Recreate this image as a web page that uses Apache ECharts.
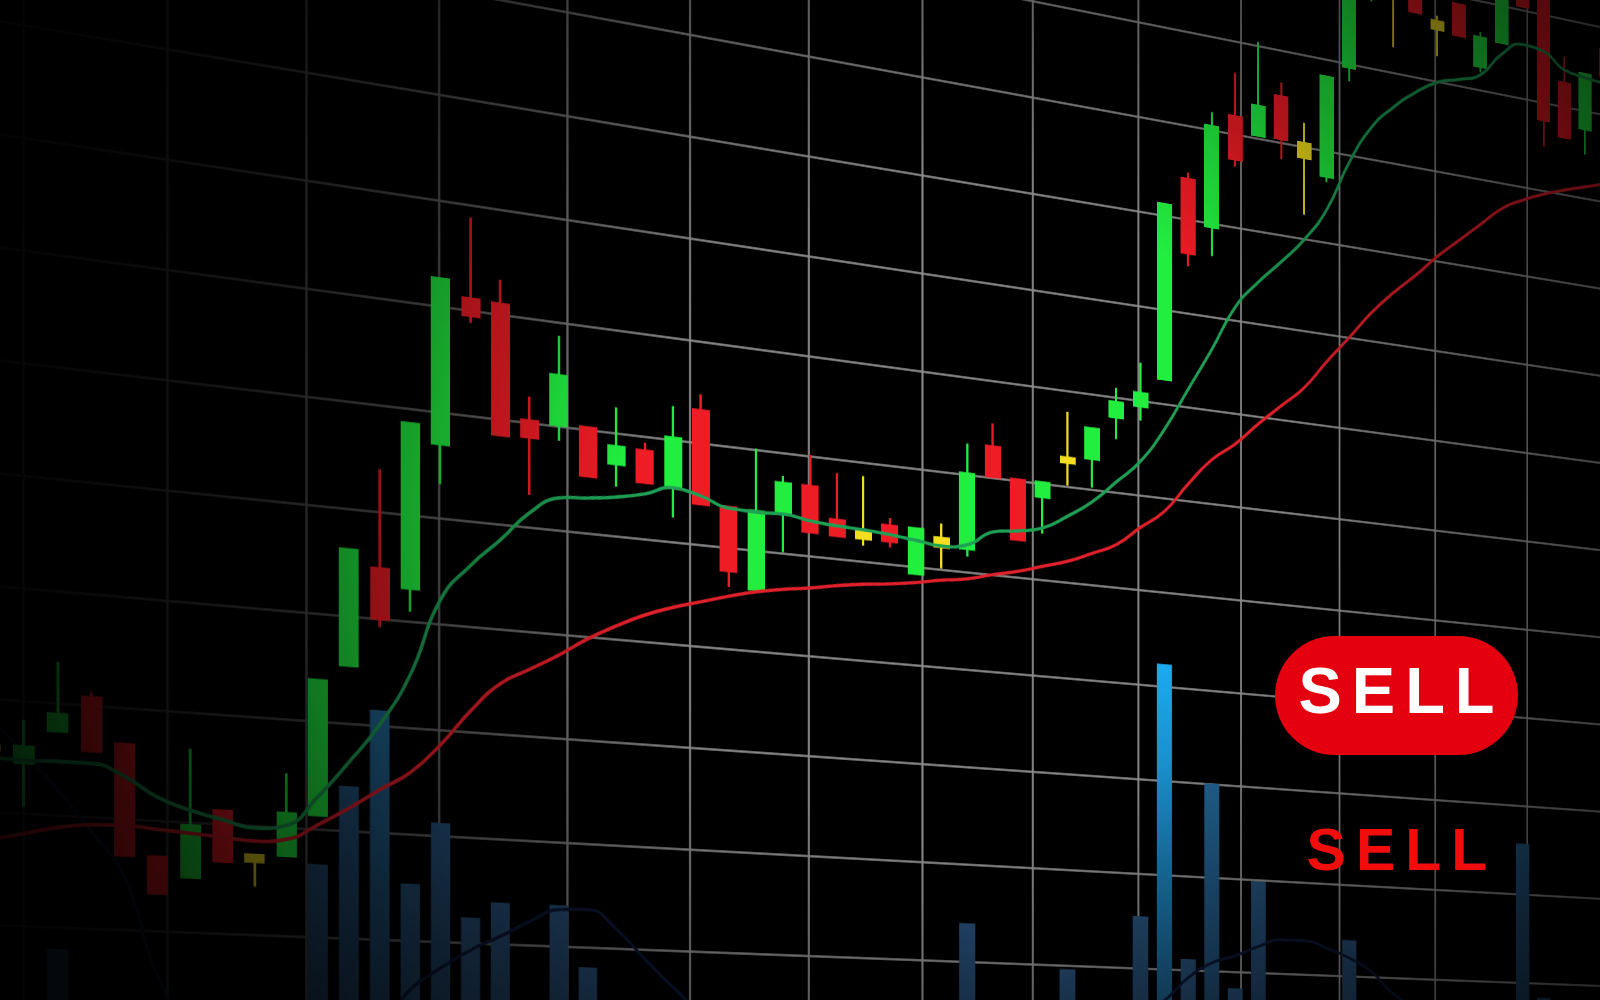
<!DOCTYPE html>
<html>
<head>
<meta charset="utf-8">
<script src="https://cdn.jsdelivr.net/npm/echarts@6.0.0/dist/echarts.min.js"></script>
<style>
html,body{margin:0;padding:0;background:#000;width:1600px;height:1000px;overflow:hidden}
#stage{position:absolute;left:0;top:0;width:1600px;height:1000px;overflow:hidden;background:#000}
#plane{position:absolute;left:-130px;top:-431px;width:2240px;height:1582px;
  transform-origin:130px 1621px;
  transform:perspective(4041.5px) rotateY(30deg) scaleX(1.1547);}
#overlay{position:absolute;left:0;top:0;width:1600px;height:1000px}
</style>
</head>
<body>
<div id="stage"><div id="plane"></div><div id="overlay"></div></div>
<script>
// ---------- data ----------
const categories = Array.from({length: 62}, (_, i) => 'T' + (i + 1));

const open  = [15.5,14.5,17.5,20.7,16.7,6.7,5.0,11.2,7.3,7.4, 11.3,25.4,34.7,33.1,47.0,61.1,61.0,50.2,50.1,50.2, 47.0,48.6,45.4,53.2,44.0,36.1,44.0,47.0,43.9,43.0, 43.9,39.3,42.3,42.4,53.2,50.1,48.6,52.5,53.2,57.9, 59.4,62.6,84.3,79.6,91.9,90.3,95.0,88.8,87.2,99.6, 109.2,110.5,111.9,106.7,109.1,102.6,105.8,114.5,112.8,102.7, 97.9,107.4];
const close = [15.8,15.9,19.0,15.9,6.7,3.4,9.7,6.6,6.7,11.3, 23.8,36.2,30.0,48.6,62.6,59.5,48.5,48.6,54.9,45.5, 48.7,45.5,50.2,44.0,37.7,43.9,47.0,42.4,42.3,42.3, 42.3,43.9,43.2,50.1,50.1,43.9,50.1,53.0,56.4,59.5, 60.8,81.2,76.4,90.4,87.3,93.5,90.4,90.4,98.1,109.2, 114.2,109.6,107.2,105.8,105.6,105.9,113.5,110.4,98.0,96.5, 104.2,104.4];
const low   = [15.0,10.6,17.5,15.9,6.7,3.4,5.0,6.6,4.4,7.4, 11.3,25.4,29.2,30.9,43.2,58.8,48.5,43.1,48.6,45.5, 44.8,45.5,42.4,44.0,36.1,36.1,40.1,42.4,42.3,41.6, 41.7,39.3,40.1,41.6,50.1,43.9,44.8,50.1,50.2,55.6, 57.9,62.6,75.0,76.5,86.5,90.3,88.2,82.6,86.6,98.1, 107.4,102.8,107.2,102.8,105.6,102.0,105.8,110.4,95.0,96.5, 95.0,104.4];
const high  = [16.4,18.3,23.7,21.2,16.7,6.7,16.7,11.2,7.3,15.0, 23.8,36.2,44.0,48.6,62.6,68.8,63.3,52.5,58.7,50.2, 52.5,49.4,53.3,54.8,44.0,50.1,47.7,50.1,48.6,48.6, 44.7,43.9,44.7,53.2,55.6,50.1,50.1,57.8,56.4,61.0, 64.0,81.2,85.0,91.9,96.6,100.4,96.5,92.6,98.1,109.2, 114.5,112.0,111.9,107.3,109.1,106.5,113.5,114.5,112.8,105.7, 104.2,107.4];
// candles drawn as neutral (yellow) signals
const neutral = [0, 8, 29, 32, 37, 47, 51, 53];

const maFast = [14.8,14.7,14.8,14.8,13.8,12.1,11.1,10.4,9.8,10.2, 13.0,16.4,20.1,25.0,32.3,35.8,38.5,41.4,43.1,43.4, 43.8,44.4,45.3,44.8,43.9,43.8,43.9,43.5,43.3,43.2, 43.0,42.7,42.4,42.8,44.4,44.8,45.4,46.9,48.7,51.1, 53.6,57.3,61.9,66.5,71.4,74.5,77.1,79.9,83.6,89.2, 93.5,96.2,98.3,99.9,100.7,101.7,104.5,106.1,105.8,104.2, 103.8,103.6];
const maSlow = [7.5,8.2,8.9,9.3,9.4,9.2,9.0,8.8,8.6,8.9, 10.4,12.1,14.0,15.8,18.6,22.0,24.8,26.4,28.0,29.8, 31.3,32.6,33.6,34.4,35.2,35.9,36.4,36.8,37.3,37.7, 38.0,38.4,38.9,39.3,40.0,40.6,41.4,42.2,43.3,44.5, 46.6,48.6,51.8,54.7,56.7,59.2,61.5,63.8,67.0,70.0, 73.1,75.7,78.0,80.5,82.7,84.9,87.1,88.5,89.6,90.5, 91.3,92.1];

const volume = ['-','-',129,'-','-','-','-','-','-','-', 191,244,296,181,223,160,171,'-',171,129, '-','-','-','-','-','-','-','-','-','-', '-','-','-',171,'-','-','-',140,'-','-', 182,374,151,286,130,213,'-','-','-',171, '-','-','-','-','-','-','-',255,131,'-', '-','-'];
const volumeMA = [273,253,230,205,176,114,80,65,58,55, 60,70,85,110,125,138,148,159,168,169, 156,136,117,100,90,85,80,78,76,75, 75,76,78,80,82,84,86,88,92,98, 106,119,137,149,155,163,169,169,164,157, 147,130,120,112,105,100,96,94,93,93, 94,95];

const priceMin = -20, priceMax = 120, priceStep = 10;
const volMin = 0, volMax = 1000;
const signalText = 'SELL';

// ---------- build ----------
const ohlc = open.map((o, i) => [o, close[i], low[i], high[i]]);
const EMPTY = ['-', '-', '-', '-'];
const mainData = ohlc.map((d, i) => neutral.includes(i) ? EMPTY : d);
const neutralData = ohlc.map((d, i) => neutral.includes(i) ? d : EMPTY);

const numVol = volume.filter(v => typeof v === 'number');
const vmax = Math.max.apply(null, numVol);
function hex2rgb(h){h=h.replace('#','');return [parseInt(h.substr(0,2),16),parseInt(h.substr(2,2),16),parseInt(h.substr(4,2),16)];}
function mix(a,b,t){const A=hex2rgb(a),B=hex2rgb(b);return 'rgb('+A.map((v,k)=>Math.round(v+(B[k]-v)*t)).join(',')+')';}

// grid lines fade out towards the left of the screen
const gridColor = new echarts.graphic.LinearGradient(0, 0, 2240, 0, [
  {offset: 0, color: '#1e1e1e'},
  {offset: 0.14, color: '#363636'},
  {offset: 0.27, color: '#606060'},
  {offset: 0.40, color: '#8a8a8a'},
  {offset: 1, color: '#8a8a8a'}], true);

const plane = echarts.init(document.getElementById('plane'), null, {renderer: 'canvas'});
plane.setOption({
  animation: false,
  backgroundColor: '#000',
  grid: [
    {left: 102.54, top: 0, width: 2127.84, height: 1582},
    {left: 4.5, top: 0, width: 2227.5, height: 1582}
  ],
  xAxis: [
    {type: 'category', gridIndex: 0, data: categories, boundaryGap: true,
     axisLine: {show: false}, axisTick: {show: false}, axisLabel: {show: false}, splitLine: {show: false}},
    {type: 'value', gridIndex: 1, min: -1, max: 14, interval: 1,
     axisLine: {show: false}, axisTick: {show: false}, axisLabel: {show: false},
     splitLine: {show: true, lineStyle: {color: gridColor, width: 2.6}}}
  ],
  yAxis: [
    {type: 'value', gridIndex: 0, min: priceMin, max: priceMax, interval: priceStep,
     axisLine: {show: false}, axisTick: {show: false}, axisLabel: {show: false},
     splitLine: {show: true, lineStyle: {color: gridColor, width: 2.6}}},
    {type: 'value', gridIndex: 0, min: volMin, max: volMax,
     axisLine: {show: false}, axisTick: {show: false}, axisLabel: {show: false}, splitLine: {show: false}},
    {type: 'value', gridIndex: 1, min: 0, max: 1, show: false, splitLine: {show: false}}
  ],
  series: [
    {type: 'bar', name: 'Volume', xAxisIndex: 0, yAxisIndex: 1, data: volume, barWidth: 22, z: 1,
     itemStyle: {color: function (p) {
       if (typeof p.value !== 'number') return '#1a2c44';
       const r = Math.pow(p.value / vmax, 5);
       return new echarts.graphic.LinearGradient(0, 0, 0, 1, [
         {offset: 0, color: mix('#24476b', '#1aaaf0', r)},
         {offset: 1, color: '#1a2b42'}]);
     }}},
    {type: 'line', name: 'Volume MA', xAxisIndex: 0, yAxisIndex: 1, data: volumeMA, smooth: true,
     symbol: 'none', lineStyle: {color: '#0c1632', width: 3.5}, z: 2},
    {type: 'candlestick', name: 'Price', xAxisIndex: 0, yAxisIndex: 0, data: mainData,
     barWidth: 19.5, z: 3,
     itemStyle: {color: '#22ee40', color0: '#ee1c25', borderColor: '#22ee40', borderColor0: '#ee1c25', borderWidth: 3}},
    {type: 'candlestick', name: 'Neutral', xAxisIndex: 0, yAxisIndex: 0, data: neutralData,
     barWidth: 19.5, z: 3,
     itemStyle: {color: '#f2de1e', color0: '#f2de1e', borderColor: '#f2de1e', borderColor0: '#f2de1e', borderWidth: 3}},
    {type: 'line', name: 'MA fast', xAxisIndex: 0, yAxisIndex: 0, data: maFast, smooth: true,
     symbol: 'none', lineStyle: {color: '#1fa055', width: 3.8}, z: 4},
    {type: 'line', name: 'MA slow', xAxisIndex: 0, yAxisIndex: 0, data: maSlow, smooth: true,
     symbol: 'none', lineStyle: {color: '#e0202a', width: 3.8}, z: 4}
  ]
});

// ---------- flat overlay: lighting falloff + signal badge ----------
const supportsLS = (typeof CanvasRenderingContext2D !== 'undefined') &&
                   ('letterSpacing' in CanvasRenderingContext2D.prototype);
let origGC = null;
if (supportsLS) {
  origGC = HTMLCanvasElement.prototype.getContext;
  HTMLCanvasElement.prototype.getContext = function (t, o) {
    const c = origGC.call(this, t, o);
    if (c && t === '2d') { try { c.letterSpacing = '10px'; } catch (e) {} }
    return c;
  };
}
const sx1 = supportsLS ? 1 : 1.15, sx2 = supportsLS ? 1 : 1.17;
const cx1 = supportsLS ? 1401.5 : 1396.5, cx2 = supportsLS ? 1402 : 1397;

const overlay = echarts.init(document.getElementById('overlay'), null, {renderer: 'canvas'});
overlay.setOption({
  animation: false,
  backgroundColor: 'transparent',
  graphic: [
    {type: 'rect', silent: true, z: 1, shape: {x: 0, y: 0, width: 1600, height: 1000},
     style: {fill: new echarts.graphic.RadialGradient(955, 510, 1000, [
       {offset: 0, color: 'rgba(0,0,0,0)'},
       {offset: 0.33, color: 'rgba(0,0,0,0)'},
       {offset: 0.55, color: 'rgba(0,0,0,0.33)'},
       {offset: 0.72, color: 'rgba(0,0,0,0.58)'},
       {offset: 0.88, color: 'rgba(0,0,0,0.78)'},
       {offset: 1, color: 'rgba(0,0,0,0.88)'}], true)}},
    {type: 'rect', z: 2, shape: {x: 1275, y: 636, width: 243, height: 119, r: 59.5},
     style: {fill: '#e5000f'}},
    {type: 'text', z: 3, x: cx1, y: 695, scaleX: sx1,
     style: {text: signalText, fill: '#ffffff', font: 'bold 65px "Liberation Sans", Arial, sans-serif',
             align: 'center', verticalAlign: 'middle'}},
    {type: 'text', z: 3, x: cx2, y: 854, scaleX: sx2,
     style: {text: signalText, fill: '#f20d0d', font: 'bold 59px "Liberation Sans", Arial, sans-serif',
             align: 'center', verticalAlign: 'middle'}}
  ]
});
if (origGC) HTMLCanvasElement.prototype.getContext = origGC;
</script>
</body>
</html>
